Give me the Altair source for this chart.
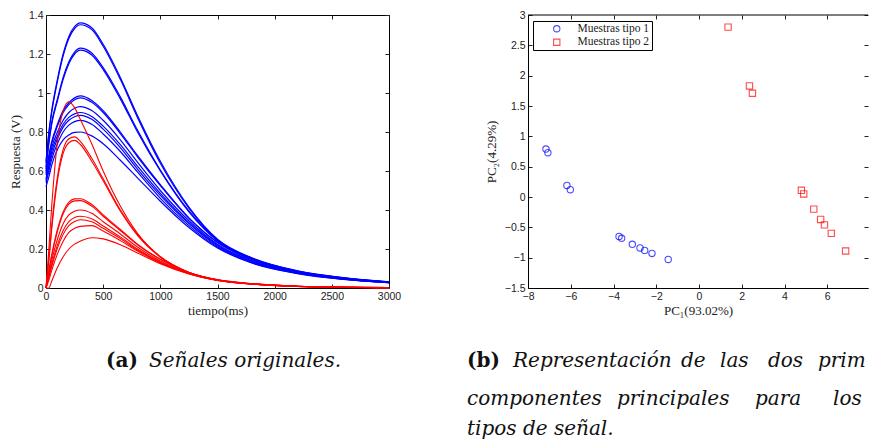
import altair as alt
import pandas as pd

# ---- Panel (a): respuesta de los sensores en el tiempo ----
tiempo_ms = [0, 25, 50, 100, 150, 200, 250, 300, 400, 500, 650, 800, 1000, 1250, 1500, 1800, 2200, 2600, 3000]

senales_tipo1 = [
    [0.65, 0.80, 0.91, 1.07, 1.20, 1.29, 1.34, 1.36, 1.335, 1.25, 1.08, 0.885, 0.65, 0.415, 0.25, 0.155, 0.088, 0.053, 0.031],
    [0.64, 0.79, 0.90, 1.06, 1.19, 1.28, 1.33, 1.35, 1.325, 1.24, 1.07, 0.875, 0.64, 0.41, 0.247, 0.153, 0.087, 0.052, 0.031],
    [0.62, 0.75, 0.85, 0.97, 1.08, 1.16, 1.21, 1.23, 1.205, 1.13, 0.98, 0.81, 0.605, 0.395, 0.243, 0.151, 0.086, 0.052, 0.030],
    [0.61, 0.74, 0.84, 0.96, 1.07, 1.15, 1.20, 1.22, 1.195, 1.12, 0.97, 0.80, 0.60, 0.39, 0.241, 0.150, 0.085, 0.051, 0.030],
    [0.60, 0.68, 0.75, 0.84, 0.91, 0.95, 0.975, 0.985, 0.962, 0.91, 0.80, 0.68, 0.53, 0.36, 0.235, 0.146, 0.083, 0.050, 0.030],
    [0.59, 0.67, 0.74, 0.83, 0.90, 0.94, 0.965, 0.975, 0.952, 0.90, 0.792, 0.673, 0.525, 0.357, 0.233, 0.145, 0.082, 0.050, 0.030],
    [0.58, 0.65, 0.72, 0.80, 0.86, 0.90, 0.922, 0.93, 0.91, 0.86, 0.76, 0.645, 0.50, 0.345, 0.225, 0.140, 0.080, 0.048, 0.029],
    [0.56, 0.63, 0.70, 0.78, 0.84, 0.875, 0.893, 0.90, 0.88, 0.83, 0.735, 0.625, 0.485, 0.335, 0.220, 0.137, 0.079, 0.047, 0.028],
    [0.55, 0.62, 0.68, 0.765, 0.825, 0.86, 0.878, 0.885, 0.865, 0.815, 0.72, 0.61, 0.475, 0.33, 0.215, 0.134, 0.077, 0.046, 0.028],
    [0.54, 0.60, 0.66, 0.74, 0.80, 0.835, 0.853, 0.86, 0.84, 0.79, 0.70, 0.595, 0.46, 0.32, 0.210, 0.130, 0.075, 0.045, 0.027],
    [0.52, 0.57, 0.63, 0.71, 0.76, 0.785, 0.798, 0.80, 0.78, 0.74, 0.655, 0.565, 0.445, 0.31, 0.205, 0.128, 0.074, 0.044, 0.027],
]

senales_tipo2 = [
    [0.0, 0.20, 0.42, 0.75, 0.91, 0.955, 0.925, 0.865, 0.74, 0.60, 0.42, 0.28, 0.16, 0.08, 0.041, 0.020, 0.008, 0.003, 0.001],
    [0.0, 0.15, 0.32, 0.57, 0.71, 0.765, 0.775, 0.752, 0.665, 0.56, 0.40, 0.275, 0.16, 0.08, 0.042, 0.021, 0.008, 0.003, 0.001],
    [0.0, 0.14, 0.30, 0.55, 0.69, 0.745, 0.757, 0.736, 0.65, 0.55, 0.395, 0.27, 0.158, 0.079, 0.041, 0.021, 0.008, 0.003, 0.001],
    [0.0, 0.09, 0.17, 0.30, 0.39, 0.44, 0.457, 0.458, 0.428, 0.375, 0.30, 0.225, 0.148, 0.080, 0.043, 0.022, 0.009, 0.004, 0.002],
    [0.0, 0.085, 0.165, 0.29, 0.38, 0.43, 0.447, 0.448, 0.42, 0.368, 0.295, 0.222, 0.146, 0.079, 0.042, 0.022, 0.009, 0.004, 0.002],
    [0.0, 0.07, 0.14, 0.25, 0.33, 0.375, 0.394, 0.40, 0.383, 0.34, 0.277, 0.21, 0.139, 0.077, 0.041, 0.021, 0.009, 0.004, 0.002],
    [0.0, 0.06, 0.12, 0.22, 0.295, 0.34, 0.361, 0.368, 0.355, 0.318, 0.262, 0.20, 0.134, 0.075, 0.040, 0.021, 0.009, 0.004, 0.002],
    [0.0, 0.055, 0.11, 0.205, 0.275, 0.32, 0.341, 0.35, 0.34, 0.306, 0.254, 0.195, 0.131, 0.074, 0.040, 0.021, 0.009, 0.004, 0.002],
    [0.0, 0.04, 0.09, 0.175, 0.24, 0.285, 0.306, 0.316, 0.32, 0.292, 0.243, 0.19, 0.128, 0.073, 0.039, 0.020, 0.008, 0.003, 0.002],
    [0.0, 0.0, 0.035, 0.105, 0.16, 0.20, 0.225, 0.24, 0.258, 0.252, 0.222, 0.18, 0.125, 0.072, 0.039, 0.020, 0.008, 0.003, 0.002],
]

ticks_tiempo = [0, 500, 1000, 1500, 2000, 2500, 3000]
ticks_respuesta = [0, 0.2, 0.4, 0.6, 0.8, 1.0, 1.2, 1.4]

# ---- Panel (b): dos primeras componentes principales ----
pc1_tipo1 = [-7.16, -7.07, -6.18, -6.02, -3.74, -3.62, -3.12, -2.76, -2.54, -2.20, -1.44]
pc2_tipo1 = [0.79, 0.73, 0.19, 0.12, -0.65, -0.68, -0.78, -0.84, -0.88, -0.93, -1.03]
pc1_tipo2 = [1.36, 2.36, 2.50, 4.79, 4.90, 5.37, 5.69, 5.87, 6.19, 6.86]
pc2_tipo2 = [2.80, 1.83, 1.71, 0.11, 0.05, -0.20, -0.37, -0.46, -0.60, -0.89]

ticks_pc1 = [-8, -6, -4, -2, 0, 2, 4, 6]
ticks_pc2 = [-1.5, -1, -0.5, 0, 0.5, 1, 1.5, 2, 2.5, 3]

tipos = ["Muestras tipo 1", "Muestras tipo 2"]
AZUL = "#0000ff"
ROJO = "#ff0000"

SANS = "Liberation Sans"
SERIF = "Liberation Serif"
CAPTION = "DejaVu Serif"
CAP_SIZE = 20

W_A, H = 343, 273
W_B = 340
BORDE = 869 - 529  # ancho visible a la derecha del eje vertical de (b)


def curvas(senales, tipo):
    filas = []
    for k, valores in enumerate(senales):
        for t, v in zip(tiempo_ms, valores):
            filas.append({"t": t, "v": v, "curva": f"{tipo}-{k}", "tipo": tipo})
    return pd.DataFrame(filas)


def eje(**kw):
    base = dict(
        labelFont=SANS, labelFontSize=10.5, labelColor="#222", labelOverlap=False, labelFlush=False,
        titleFont=SERIF, titleFontSize=13, titleFontWeight="normal", titleColor="#222",
        ticks=False, labelPadding=3, grid=True, gridColor="#222", gridWidth=1, gridOpacity=1,
        format=".2~f",
    )
    base.update(kw)
    return alt.Axis(**base)


def texto(txt, x, y, bold=False, limit=None):
    props = dict(font=CAPTION, fontSize=CAP_SIZE, align="left", baseline="middle", color="#111")
    if bold:
        props["fontWeight"] = "bold"
    else:
        props["fontStyle"] = "italic"
    if limit is not None:
        props["limit"] = limit
        props["ellipsis"] = "\u200b"
    return alt.Chart(pd.DataFrame({"txt": [txt]})).mark_text(**props).encode(
        text="txt:N", x=alt.value(x), y=alt.value(y)
    )


# inward tick marks on both sides come from a dashed grid as long as the panel
x_a = alt.X("t:Q", scale=alt.Scale(domain=[0, 3000], nice=False),
            axis=eje(values=ticks_tiempo, title="tiempo(ms)", domain=False,
                     gridDash=[4, H - 8, 4, 1000], titlePadding=3))
y_a = alt.Y("v:Q", scale=alt.Scale(domain=[0, 1.4], nice=False),
            axis=eje(values=ticks_respuesta, title="Respuesta (V)", domain=False,
                     gridDash=[4, W_A - 8, 4, 1000], titlePadding=6))

lineas1 = alt.Chart(curvas(senales_tipo1, tipos[0])).mark_line(
    interpolate="monotone", strokeWidth=1.2, color=AZUL
).encode(x=x_a, y=y_a, detail="curva:N")

lineas2 = alt.Chart(curvas(senales_tipo2, tipos[1])).mark_line(
    interpolate="monotone", strokeWidth=1.1, color=ROJO
).encode(x=x_a, y=y_a, detail="curva:N")

panel_a = alt.layer(
    lineas1, lineas2,
    texto("(a)", 60, 346, bold=True),
    texto("Señales originales.", 103, 346),
).properties(width=W_A, height=H, view=alt.ViewBackground(stroke="black", strokeWidth=1))

# ---- panel b ----
pca = pd.DataFrame(
    [{"pc1": x, "pc2": y, "tipo": tipos[0]} for x, y in zip(pc1_tipo1, pc2_tipo1)]
    + [{"pc1": x, "pc2": y, "tipo": tipos[1]} for x, y in zip(pc1_tipo2, pc2_tipo2)]
)

x_max = -8 + W_B / 21.375

leyenda = alt.Legend(
    title=None, orient="none", legendX=5, legendY=6,
    strokeColor="black", fillColor="white", padding=2,
    labelFont=SERIF, labelFontSize=11.5, labelColor="#222",
    symbolSize=40, symbolStrokeWidth=1.1, symbolOffset=16, labelOffset=15, rowPadding=0.5,
)

puntos = alt.Chart(pca).mark_point(filled=False, size=40, strokeWidth=1.1).encode(
    x=alt.X("pc1:Q", scale=alt.Scale(domain=[-8, x_max], nice=False),
            axis=eje(values=ticks_pc1, title="PC₁(93.02%)", domain=True, domainColor="black",
                     gridDash=[4, H - 8, 4, 1000], titlePadding=3)),
    y=alt.Y("pc2:Q", scale=alt.Scale(domain=[-1.5, 3], nice=False),
            axis=eje(values=ticks_pc2, title="PC₂(4.29%)", domain=True, domainColor="black",
                     gridDash=[4, W_B - 8, 4, 1000], titlePadding=6)),
    color=alt.Color("tipo:N", scale=alt.Scale(domain=tipos, range=[AZUL, ROJO]), legend=leyenda),
    shape=alt.Shape("tipo:N", scale=alt.Scale(domain=tipos, range=["circle", "square"]), legend=leyenda),
)

# upper edge of the frame (the right edge lies beyond the page)
borde_sup = alt.Chart(pd.DataFrame({"k": [0]})).mark_rule(color="black", strokeWidth=1).encode(
    x=alt.value(0), x2=alt.value(W_B), y=alt.value(0)
)

# justified caption: words placed one by one, the line runs past the page edge
pie_b = [
    texto("(b)", -61, 346, bold=True),
    texto("Representación", -15, 346),
    texto("de", 153, 346),
    texto("las", 192, 346),
    texto("dos", 240, 346),
    texto("primeras", 290, 346, limit=BORDE - 290),
    texto("componentes", -61, 384),
    texto("principales", 89, 384),
    texto("para", 227, 384),
    texto("los", 305, 384),
    texto("tipos de señal.", -61, 414),
]

panel_b = alt.layer(puntos, borde_sup, *pie_b).properties(
    width=W_B, height=H, view=alt.ViewBackground(stroke="transparent")
)

chart = alt.hconcat(panel_a, panel_b, spacing=64).resolve_legend(
    color="independent", shape="independent"
).properties(
    padding={"left": 8, "top": 9, "right": 0, "bottom": 0},
    background="white",
)

chart.save("out.html", embed_options={"renderer": "svg", "actions": False})
